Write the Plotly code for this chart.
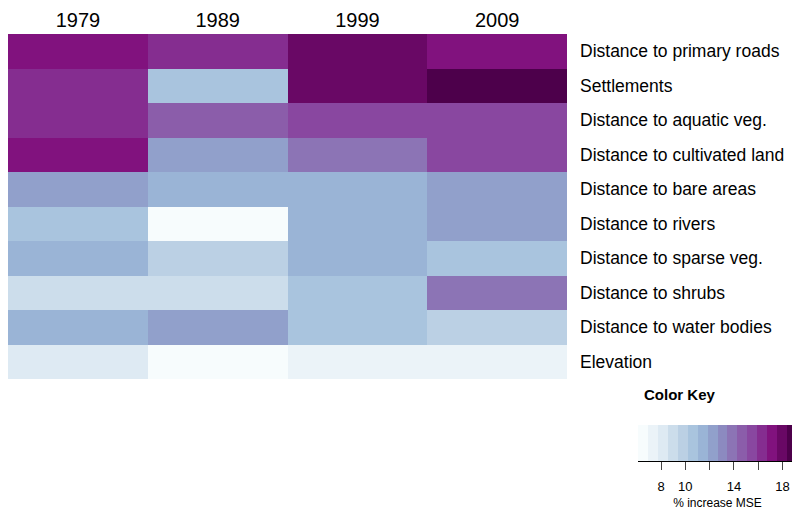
import plotly.graph_objects as go

# --- Data: % increase MSE per variable and year ---
years = ["1979", "1989", "1999", "2009"]
variables = [
    "Distance to primary roads",
    "Settlements",
    "Distance to aquatic veg.",
    "Distance to cultivated land",
    "Distance to bare areas",
    "Distance to rivers",
    "Distance to sparse veg.",
    "Distance to shrubs",
    "Distance to water bodies",
    "Elevation",
]
mse_1979 = [17.2, 16.3, 16.2, 17.3, 12.2, 10.6, 11.4, 8.9, 11.4, 8.1]
mse_1989 = [16.4, 10.6, 14.6, 12.2, 11.5, 6.1, 9.8, 8.9, 12.3, 6.5]
mse_1999 = [18.0, 18.1, 15.5, 13.9, 11.5, 11.4, 11.5, 10.6, 10.6, 7.3]
mse_2009 = [17.1, 19.2, 15.4, 15.4, 12.3, 12.2, 10.6, 13.9, 9.8, 7.3]

key_ticks = [8, 10, 12, 14, 16, 18]
key_ticktext = ["8", "10", "", "14", "", "18"]

# 16-step BuPu ramp (as colorRampPalette(brewer.pal(9, "BuPu"))(16))
bupu16 = [
    "#f7fcfd", "#ebf3f8", "#deeaf3", "#ccddeb", "#bbd0e4", "#a9c4de",
    "#9ab4d6", "#91a0cb", "#8c8ac0", "#8c74b5", "#8b5daa", "#8947a0",
    "#852d90", "#81127e", "#690865", "#4d004b",
]

FONT = "Arial, Liberation Sans, sans-serif"

# the page body adds an 8px margin, so place things relative to that
OFF = 8
W, H = 800, 513


def px_x(x):
    return (x - OFF) / W


def px_y(y):
    return 1 - (y - OFF) / H


# rows x columns matrix
z = [list(r) for r in zip(mse_1979, mse_1989, mse_1999, mse_2009)]
all_vals = mse_1979 + mse_1989 + mse_1999 + mse_2009
zmin, zmax = min(all_vals), max(all_vals)

n = len(bupu16)
colorscale = []
for i, c in enumerate(bupu16):
    colorscale.append([i / n, c])
    colorscale.append([(i + 1) / n, c])

fig = go.Figure()

# Main heatmap
fig.add_trace(go.Heatmap(
    x=years, y=variables, z=z,
    colorscale=colorscale, zmin=zmin, zmax=zmax,
    showscale=False, hoverinfo="x+y+z",
    xaxis="x", yaxis="y",
))

# Color key as a one-row heatmap on its own axes
step = (zmax - zmin) / n
centers = [zmin + (i + 0.5) * step for i in range(n)]
fig.add_trace(go.Heatmap(
    x=centers, y=[0], z=[centers],
    colorscale=colorscale, zmin=zmin, zmax=zmax,
    showscale=False, hoverinfo="skip",
    xaxis="x2", yaxis="y2",
))

fig.update_layout(
    width=W, height=H,
    margin=dict(l=0, r=0, t=0, b=0),
    paper_bgcolor="white", plot_bgcolor="white",
    font=dict(family=FONT, color="black"),
    xaxis=dict(
        domain=[0, px_x(567)], side="top", showgrid=False, zeroline=False,
        ticks="", tickfont=dict(size=20), ticklabelstandoff=2,
        automargin=False,
    ),
    yaxis=dict(
        domain=[px_y(379), px_y(34)], side="right", autorange="reversed",
        showgrid=False, zeroline=False, ticks="",
        tickfont=dict(size=17.5), ticklabelstandoff=12, automargin=False,
    ),
    xaxis2=dict(
        domain=[px_x(638), px_x(797)], anchor="y2", range=[zmin, zmax],
        showgrid=False, zeroline=False, showline=True, linecolor="black",
        linewidth=1, ticks="outside", ticklen=8, tickcolor="#444",
        tickvals=key_ticks, ticktext=key_ticktext, tickfont=dict(size=13),
        ticklabelstandoff=5, automargin=False,
        title=dict(text="% increase MSE", font=dict(size=12), standoff=6),
    ),
    yaxis2=dict(
        domain=[px_y(461), px_y(425)], anchor="x2", showgrid=False,
        zeroline=False, showticklabels=False, ticks="", automargin=False,
    ),
    annotations=[dict(
        text="<b>Color Key</b>", x=px_x(718), y=px_y(405),
        xref="paper", yref="paper", showarrow=False, font=dict(size=15),
    )],
)

fig.write_html("out.html")
